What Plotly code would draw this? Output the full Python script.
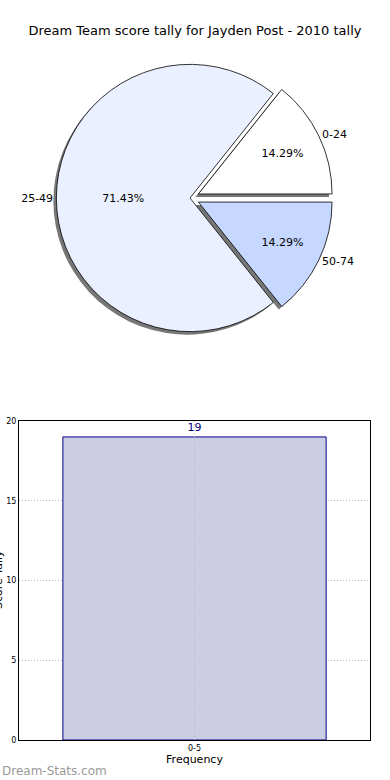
import plotly.graph_objects as go

# Pie data (in counter-clockwise order starting at 3 o'clock)
pie_labels = ["0-24", "25-49", "50-74"]
pie_values = [1, 5, 1]
pie_colors = ["#ffffff", "#eaf0ff", "#c6d8ff"]
pie_pull = [0.07, 0.0, 0.07]

# Bar data
bar_cats = ["0-5"]
bar_values = [19]

title = "Dream Team score tally for Jayden Post - 2010 tally"

W, H = 390, 780
ml, mr, mt, mb = 19, 20, 20, 40
pw, ph = W - ml - mr, H - mt - mb

def fx(px):
    return (px - ml) / pw

def fy(py):
    return (H - mb - py) / ph

cx, cy, r = 190, 198, 121
half_w = cx - ml
dom_x = [0, fx(cx + half_w)]
dom_y = [fy(cy + r + 22), fy(cy - r - 22)]
sh = 3
shadow_x = [0, fx(cx - sh + half_w - sh)]
shadow_y = [dom_y[0] - sh / ph, dom_y[1] - sh / ph]

fig = go.Figure()

# plotly draws clockwise from 3 o'clock; reversing the order reproduces
# the counter-clockwise layout of the reference
common = dict(labels=pie_labels[::-1], values=pie_values[::-1], sort=False,
              direction="clockwise", rotation=90, pull=pie_pull[::-1],
              hoverinfo="skip", showlegend=False)

# shadow
fig.add_trace(go.Pie(**common, domain=dict(x=shadow_x, y=shadow_y),
                     marker=dict(colors=["#777777"] * 3, line=dict(width=0)),
                     textinfo="none"))
# main pie with percentages inside
fig.add_trace(go.Pie(**common, domain=dict(x=dom_x, y=dom_y),
                     marker=dict(colors=pie_colors[::-1], line=dict(color="#000000", width=0.8)),
                     textinfo="percent", texttemplate="%{percent:.2%}",
                     textposition="inside", insidetextorientation="horizontal",
                     textfont=dict(family="DejaVu Sans", size=11, color="#000000")))
# labels outside
fig.add_trace(go.Pie(**common, domain=dict(x=dom_x, y=dom_y),
                     marker=dict(colors=["rgba(0,0,0,0)"] * 3, line=dict(width=0)),
                     textinfo="label", textposition="outside",
                     outsidetextfont=dict(family="DejaVu Sans", size=11, color="#000000")))

# bar
fig.add_trace(go.Bar(x=bar_cats, y=bar_values, width=0.75,
                     marker=dict(color="#ccccE5", line=dict(color="#00008b", width=1)),
                     text=[str(v) for v in bar_values], textposition="outside",
                     textfont=dict(family="DejaVu Sans", size=11, color="#00007f"),
                     cliponaxis=False, hoverinfo="skip", showlegend=False))

grid_color = "#b8b8b8"
axis_style = dict(showgrid=True, gridcolor=grid_color, griddash="1px,2px", gridwidth=1,
                  showline=True, linecolor="#000000", mirror=True, automargin=False,
                  ticks="", tickfont=dict(size=8, color="#000000"), zeroline=False)

# vertical category grid drawn above the bars (as in the reference)
shapes = [dict(type="line", xref="x", yref="y domain", x0=c, x1=c, y0=0, y1=1,
               layer="above", line=dict(color=grid_color, width=1, dash="1px,2px"))
          for c in bar_cats]

fig.update_layout(
    width=W, height=H,
    margin=dict(l=ml, r=mr, t=mt, b=mb, autoexpand=False),
    paper_bgcolor="#ffffff", plot_bgcolor="#ffffff",
    font=dict(family="DejaVu Sans", color="#000000"),
    title=dict(text=title, x=0.5, xanchor="center", y=1 - 30 / H, yanchor="middle",
               yref="container", font=dict(size=13, family="DejaVu Sans")),
    xaxis=dict(domain=[0, 1], anchor="y", range=[-0.5, 0.5], type="category",
               title=dict(text="Frequency", font=dict(size=11), standoff=2), **axis_style),
    yaxis=dict(domain=[0, fy(421)], anchor="x", range=[0, 20], dtick=5, **axis_style),
    shapes=shapes,
    annotations=[
        dict(text="Score Tally", textangle=-90, xref="paper", yref="paper",
             x=fx(-2), y=fy(580), xanchor="center", yanchor="middle",
             showarrow=False, font=dict(size=11, color="#000000")),
        dict(text="Dream-Stats.com", xref="paper", yref="paper",
             x=fx(0), y=fy(771), xanchor="left", yanchor="middle",
             showarrow=False, font=dict(size=12, color="#999999", family="DejaVu Sans")),
    ],
)

fig.write_html("out.html", config={"displayModeBar": False},
               post_script="document.body.style.margin='0';document.body.style.overflow='hidden';")
